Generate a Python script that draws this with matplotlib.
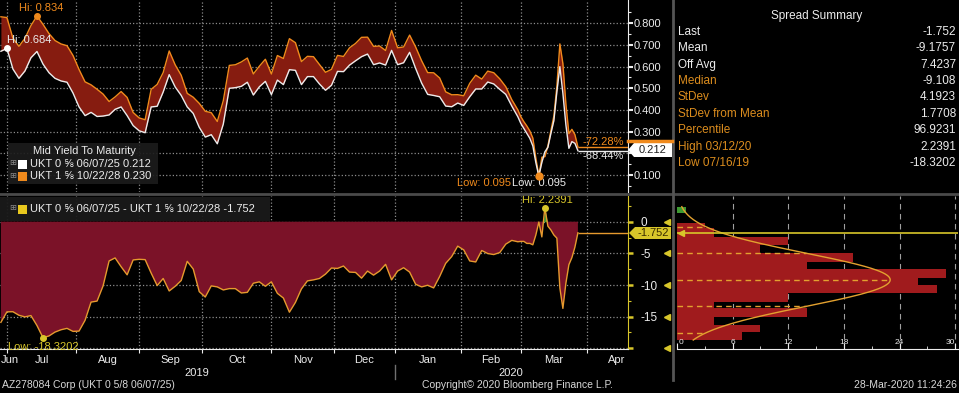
import numpy as np
import pandas as pd
import matplotlib
matplotlib.use('Agg')
import matplotlib.pyplot as plt
from matplotlib.patches import Rectangle, Polygon
from matplotlib.lines import Line2D
from matplotlib.transforms import blended_transform_factory

plt.rcParams['font.family'] = ['Liberation Sans', 'DejaVu Sans']

W, H = 959, 393

# --- data -------------------------------------------------------------------
uk_holidays = ['2019-08-26', '2019-12-25', '2019-12-26', '2020-01-01',
               '2020-04-10', '2020-04-13']

# every second trading day up to end-Feb, then daily through March
trading_days = pd.bdate_range('2019-06-27', '2020-03-27', freq='C', holidays=uk_holidays)
sample_idx = list(range(0, 173, 2)) + list(range(173, len(trading_days)))
sample_dates = trading_days[sample_idx]

# UKT 0 5/8 06/07/25 mid yield (%)
ukt25 = [
    0.671, 0.684, 0.589, 0.546, 0.580, 0.641, 0.670, 0.612, 0.572, 0.546,
    0.534, 0.528, 0.478, 0.414, 0.374, 0.389, 0.370, 0.372, 0.377, 0.403,
    0.414, 0.374, 0.328, 0.304, 0.295, 0.414, 0.417, 0.483, 0.563, 0.506,
    0.467, 0.414, 0.384, 0.320, 0.275, 0.286, 0.244, 0.335, 0.500, 0.503,
    0.509, 0.528, 0.469, 0.507, 0.532, 0.471, 0.538, 0.517, 0.586, 0.583,
    0.517, 0.554, 0.554, 0.520, 0.491, 0.514, 0.578, 0.577, 0.607, 0.627,
    0.646, 0.658, 0.609, 0.617, 0.607, 0.675, 0.609, 0.618, 0.666, 0.592,
    0.524, 0.472, 0.467, 0.461, 0.418, 0.415, 0.432, 0.421, 0.461, 0.497,
    0.497, 0.529, 0.520, 0.495, 0.472, 0.418, 0.369,
    # March, daily
    0.338, 0.315, 0.292, 0.269, 0.234, 0.157, 0.095, 0.158, 0.207, 0.227,
    0.291, 0.351, 0.484, 0.600, 0.477, 0.331, 0.223, 0.254, 0.246, 0.212,
]

# spread UKT25 - UKT28 (bp)
spread = [
    -15.90, -14.24, -14.22, -14.78, -15.04, -14.83, -16.40, -18.3202, -18.05, -17.44,
    -17.07, -16.85, -17.33, -17.28, -15.58, -12.70, -12.54, -10.14, -6.20, -5.72,
    -7.11, -8.39, -6.04, -5.94, -5.99, -8.12, -10.09, -8.97, -10.94, -10.20,
    -9.29, -6.26, -7.48, -11.05, -11.90, -10.14, -10.30, -10.78, -10.57, -10.57,
    -11.26, -11.16, -9.72, -9.50, -10.20, -9.50, -11.32, -12.06, -14.30, -12.75,
    -10.62, -9.35, -9.19, -8.97, -8.28, -7.32, -7.38, -7.00, -7.96, -8.01,
    -8.92, -7.80, -8.44, -7.80, -6.74, -9.19, -7.80, -7.27, -7.96, -9.88,
    -10.30, -10.04, -10.46, -8.65, -6.58, -5.51, -3.86, -4.45, -6.20, -6.36,
    -4.55, -5.03, -5.19, -4.87, -3.54, -2.95, -3.17,
    # March, daily
    -3.11, -3.11, -3.43, -3.43, -3.65, -2.10, -0.05, -2.40, 2.2391, -0.70,
    -1.30, -2.10, -2.60, -10.50, -13.70, -9.72, -6.79, -5.67, -4.02, -1.752,
]

# spread distribution (bin edges in bp, counts)
hist_edges = [2.37, 1.32, -0.26, -1.05, -2.36, -3.68, -5.00, -6.31, -7.47, -8.95,
              -10.00, -11.32, -12.63, -13.69, -15.00, -16.32, -17.47, -18.69]
hist_counts = [1, 0, 3, 4, 12, 9, 19, 14, 29, 26, 28, 12, 4, 14, 4, 9, 7]
spread_mean = -9.1757
spread_std = 4.1923

summary_labels = ['Last', 'Mean', 'Off Avg', 'Median', 'StDev', 'StDev from Mean',
                  'Percentile', 'High 03/12/20', 'Low 07/16/19']
summary_values = ['-1.752', '-9.1757', '7.4237', '-9.108', '4.1923', '1.7708',
                  '96.9231', '2.2391', '-18.3202']

# --- colours ----------------------------------------------------------------
WHITE = '#ececec'
ORANGE = '#f08a1c'
SPREAD_LINE = '#e69a2e'
YELLOW = '#d8c62a'
LABEL_ORANGE = '#dc8d1e'
TOP_FILL = '#861c10'
BOT_FILL = '#7b1228'
GRID = '#8c8c8c'

ukt25 = np.array(ukt25)
spread = np.array(spread)
ukt28 = ukt25 - spread / 100.0

x = np.busday_count('2019-07-01', sample_dates.values.astype('datetime64[D]'),
                    holidays=uk_holidays)

months = pd.date_range('2019-06-01', '2020-05-01', freq='MS')
month_first = np.busday_offset(months.values.astype('datetime64[D]'), 0,
                               roll='forward', holidays=uk_holidays)
month_x = np.busday_count('2019-07-01', month_first, holidays=uk_holidays)

XMIN, XMAX = -2.3, 206.5


def fx(px):
    return px / W


def fy(py):
    return 1 - py / H


fig = plt.figure(figsize=(W / 100, H / 100), dpi=100, facecolor='black')

ax_top = fig.add_axes([0, fy(192), fx(627.5), 192 / H])
ax_bot = fig.add_axes([0, fy(349), fx(627.5), (349 - 195.5) / H])
ax_hist = fig.add_axes([fx(677), fy(349), fx(281), (349 - 195.5) / H])

for ax in (ax_top, ax_bot, ax_hist):
    ax.set_facecolor('black')
    for s in ax.spines.values():
        s.set_visible(False)

# --- top panel: yields --------------------------------------------------------
ax_top.fill_between(x, ukt25, ukt28, color=TOP_FILL, lw=0, zorder=2)
ax_top.plot(x, ukt28, color=ORANGE, lw=1.0, zorder=3)
ax_top.plot(x, ukt25, color=WHITE, lw=1.0, zorder=4)
ax_top.hlines(ukt28[-1], x[-1], XMAX, color=ORANGE, lw=1.0, zorder=3)
ax_top.hlines(ukt25[-1], x[-1], XMAX, color=WHITE, lw=1.0, zorder=4)

ax_top.set_xticks(month_x, minor=True)
ax_top.set_xticks([])
ax_top.tick_params(axis='x', which='both', length=0, labelbottom=False)
ax_top.yaxis.tick_right()
yt_major = np.arange(0.1, 0.85, 0.1)
ax_top.set_yticks(yt_major)
# the 0.200 label sits under the last-price tag
ax_top.set_yticklabels(['' if abs(v - 0.2) < 1e-9 else '%.3f' % v for v in yt_major])
ax_top.set_yticks(np.arange(0.05, 0.88, 0.05), minor=True)
ax_top.tick_params(axis='y', which='major', colors=WHITE, labelsize=8, length=3.5,
                   width=1.5, pad=1)
ax_top.tick_params(axis='y', which='minor', colors=WHITE, length=2, width=0.8)
ax_top.spines['right'].set_visible(True)
ax_top.spines['right'].set_color(WHITE)
ax_top.grid(which='minor', axis='x', color=GRID, ls=':', lw=0.9)
ax_top.grid(which='major', axis='y', color=GRID, ls=':', lw=0.9)
ax_top.set_axisbelow(True)
ax_top.set_xlim(XMIN, XMAX)
ax_top.set_ylim(0.0215, 0.9075)

i_hi28 = int(np.argmax(ukt28))
i_hi25 = int(np.argmax(ukt25))
i_lo = int(np.argmin(ukt28))
ax_top.plot(x[i_hi28], ukt28[i_hi28], 'o', color=ORANGE, ms=4, zorder=6)
ax_top.annotate('Hi: 0.834', (x[i_hi28], ukt28[i_hi28]), xytext=(3, 5.5),
                textcoords='offset points', ha='center', va='center',
                color=ORANGE, fontsize=8)
ax_top.plot(x[i_hi25], ukt25[i_hi25], 'o', color='white', ms=4, zorder=6)
ax_top.annotate('Hi: 0.684', (x[i_hi25], ukt25[i_hi25]), xytext=(16, 6),
                textcoords='offset points', ha='center', va='center',
                color=WHITE, fontsize=8)
ax_top.plot(x[i_lo], ukt28[i_lo], 'o', color=ORANGE, ms=5, zorder=6)
ax_top.annotate('Low: 0.095', (x[i_lo], ukt28[i_lo]), xytext=(-20, -5.3),
                textcoords='offset points', ha='right', va='center',
                color=ORANGE, fontsize=8)
ax_top.annotate('Low: 0.095', (x[i_lo], ukt25[i_lo]), xytext=(-19.4, -5.3),
                textcoords='offset points', ha='left', va='center',
                color=WHITE, fontsize=8)
ax_top.text(205.3, 0.254, '-72.28%', color=ORANGE, fontsize=8, ha='right', va='center')
ax_top.text(205.3, 0.189, '-68.44%', color=WHITE, fontsize=8, ha='right', va='center')

# --- bottom panel: spread -----------------------------------------------------
ax_bot.fill_between(x, spread, 0, where=spread <= 0, interpolate=True,
                    color=BOT_FILL, lw=0, zorder=2)
ax_bot.fill_between(x, spread, 0, where=spread >= 0, interpolate=True,
                    color='#3e9a32', lw=0, zorder=2)
ax_bot.plot(x, spread, color=SPREAD_LINE, lw=1.0, zorder=3)
ax_bot.hlines(spread[-1], x[-1], XMAX, color=SPREAD_LINE, lw=1.0, zorder=3)

label_x = [max((a + b) / 2, 1.0) for a, b in zip(month_x[:-1], month_x[1:])]
label_txt = [m.strftime('%b') for m in months[:-1]]
ax_bot.set_xticks(label_x)
ax_bot.set_xticklabels(label_txt)
ax_bot.set_xticks(month_x, minor=True)
ax_bot.tick_params(axis='x', which='major', length=0, colors=WHITE, labelsize=8, pad=4)
ax_bot.tick_params(axis='x', which='minor', length=3, colors=WHITE, width=0.8)
ax_bot.spines['bottom'].set_visible(True)
ax_bot.spines['bottom'].set_color(WHITE)
ax_bot.yaxis.tick_right()
ax_bot.set_yticks([0, -5, -10, -15, -20])
ax_bot.set_yticklabels(['0', '-5', '-10', '-15', ''])
ax_bot.set_yticks(np.arange(-17.5, 4, 5), minor=True)
ax_bot.tick_params(axis='y', which='major', colors=YELLOW, labelcolor=WHITE,
                   labelsize=8.5, length=3.5, width=1.8, pad=6)
ax_bot.tick_params(axis='y', which='minor', colors=YELLOW, length=2.5, width=0.8)
ax_bot.spines['right'].set_visible(True)
ax_bot.spines['right'].set_color(YELLOW)
ax_bot.grid(which='minor', axis='x', color=GRID, ls=':', lw=0.9)
ax_bot.grid(which='major', axis='y', color=GRID, ls=':', lw=0.9)
ax_bot.set_axisbelow(True)
ax_bot.set_xlim(XMIN, XMAX)
ax_bot.set_ylim(-20.11, 4.14)

i_shi = int(np.argmax(spread))
i_slo = int(np.argmin(spread))
ax_bot.plot(x[i_shi], spread[i_shi], 'o', color=YELLOW, ms=4, zorder=6)
ax_bot.annotate('Hi: 2.2391', (x[i_shi], spread[i_shi]), xytext=(2, 5.5),
                textcoords='offset points', ha='center', va='center',
                color=YELLOW, fontsize=8)
ax_bot.plot(x[i_slo], spread[i_slo], 'o', color=YELLOW, ms=4, zorder=6)
ax_bot.annotate('Low: -18.3202', (x[i_slo], spread[i_slo]), xytext=(0, -6.8),
                textcoords='offset points', ha='center', va='center',
                color=YELLOW, fontsize=8)

xt = blended_transform_factory(ax_bot.transData, ax_bot.transAxes)
years = [('2019', (XMIN + month_x[7]) / 2), ('2020', (month_x[7] + XMAX) / 2)]
for txt, xp in years:
    ax_bot.text(xp, -0.155, txt, transform=xt, color=WHITE, fontsize=8,
                ha='center', va='center', clip_on=False)
ax_bot.add_line(Line2D([month_x[7], month_x[7]], [-0.105, -0.195], transform=xt,
                       color='#707070', lw=1, clip_on=False))

# left-pointing yellow tick markers at the outer edge of the y axis
yt = blended_transform_factory(fig.transFigure, ax_bot.transData)
ax_bot.plot([fx(667)] * 5, [0, -5, -10, -15, -20], ls='none', marker='<',
            color=YELLOW, ms=4, transform=yt, clip_on=False)
ax_bot.set_xlim(XMIN, XMAX)

# --- histogram ----------------------------------------------------------------
for top, bottom, cnt in zip(hist_edges[:-1], hist_edges[1:], hist_counts):
    if cnt == 0:
        continue
    col = '#3e9a32' if bottom >= 0 else '#a01b1d'
    ax_hist.barh(bottom, cnt, height=top - bottom, align='edge', color=col, lw=0, zorder=2)

ax_hist.set_yticks([])
ax_hist.set_xticks(range(0, 31, 6))
ax_hist.set_xticks(range(0, 31, 3), minor=True)
ax_hist.tick_params(axis='x', which='major', direction='in', length=4, colors=WHITE,
                    labelbottom=False)
ax_hist.tick_params(axis='x', which='minor', direction='in', length=2, colors=WHITE)
ax_hist.spines['bottom'].set_visible(True)
ax_hist.spines['bottom'].set_color(WHITE)
ax_hist.vlines(range(6, 31, 6), -20.11, 4.14, colors='#a0a0a0', lw=0.8,
               linestyles=(0, (5, 4)), zorder=1)
for v in range(0, 31, 6):
    ha = 'left' if v == 0 else ('right' if v == 30 else 'center')
    ax_hist.text(v + (0.2 if v == 0 else 0), -19.1, str(v), color=WHITE, fontsize=6,
                 ha=ha, va='center')

n_obs = sum(hist_counts)
bin_w = (hist_edges[0] - hist_edges[-1]) / len(hist_counts)
peak = n_obs * bin_w / (spread_std * np.sqrt(2 * np.pi))
yy = np.linspace(hist_edges[-1], hist_edges[0], 300)
ax_hist.plot(peak * np.exp(-0.5 * ((yy - spread_mean) / spread_std) ** 2), yy,
             color='#e3a12f', lw=1, zorder=4)
for k in (-2, -1, 0, 1, 2):
    yk = spread_mean + k * spread_std
    ax_hist.hlines(yk, 0, peak * np.exp(-0.5 * k * k), colors='#e3a12f', lw=1,
                   linestyles=(0, (4, 3)), zorder=3)
ax_hist.axhline(spread[-1], color=YELLOW, lw=1.2, zorder=5)
ax_hist.plot([0.45], [spread[-1]], marker='<', color=YELLOW, ms=5, zorder=6)
ax_hist.set_xlim(0, 30.3)
ax_hist.set_ylim(-20.11, 4.14)

# --- separators, tags, legends, text --------------------------------------------
fig.add_artist(Line2D([0, 1], [fy(193.5), fy(193.5)], color='#4a4a4a', lw=2))
fig.add_artist(Line2D([fx(673), fx(673)], [fy(0), fy(380)], color='#555555', lw=2))

fig.add_artist(Line2D([fx(628), fx(672)], [fy(141), fy(141)], color=ORANGE, lw=2.5))
fig.add_artist(Polygon([(fx(628), fy(150)), (fx(634), fy(143)), (fx(672), fy(143)),
                        (fx(672), fy(157)), (fx(634), fy(157))],
                       closed=True, fc='white', ec='none', transform=fig.transFigure))
fig.text(fx(653), fy(150.5), '0.212', color='#202020', fontsize=8, ha='center', va='center')

fig.add_artist(Polygon([(fx(629), fy(233)), (fx(635), fy(227)), (fx(671), fy(227)),
                        (fx(671), fy(239)), (fx(635), fy(239))],
                       closed=True, fc=YELLOW, ec='none', transform=fig.transFigure))
fig.text(fx(653), fy(233.5), '-1.752', color='#3a2c00', fontsize=8, ha='center', va='center')

# top legend
fig.add_artist(Rectangle((fx(8), fy(184)), fx(150), 41 / H, fc='#1c1c1c', ec='none',
                         alpha=0.92, transform=fig.transFigure))
fig.text(fx(84), fy(151), 'Mid Yield To Maturity', color=WHITE, fontsize=8,
         ha='center', va='center')
for row_y, col, name in [(164, 'white', 'UKT 0 \u215d 06/07/25 0.212'),
                         (176, ORANGE, 'UKT 1 \u215d 10/22/28 0.230')]:
    fig.text(fx(9), fy(row_y), '\u229e', color='#8a8a8a', fontsize=6, ha='left', va='center')
    fig.add_artist(Rectangle((fx(18), fy(row_y + 4.5)), fx(8.5), 9 / H, fc=col,
                             ec='none', transform=fig.transFigure))
    fig.text(fx(30), fy(row_y), name, color=WHITE, fontsize=8, ha='left', va='center')

# bottom legend
fig.add_artist(Rectangle((fx(0), fy(221)), fx(270), 24 / H, fc='#1a1a1a', ec='none',
                         alpha=0.95, transform=fig.transFigure))
fig.text(fx(9), fy(209), '\u229e', color='#8a8a8a', fontsize=6, ha='left', va='center')
fig.add_artist(Rectangle((fx(18), fy(213.5)), fx(8.5), 9 / H, fc='#e8c81e', ec='none',
                         transform=fig.transFigure))
fig.text(fx(30), fy(209), 'UKT 0 \u215d 06/07/25 - UKT 1 \u215d 10/22/28 -1.752',
         color=WHITE, fontsize=8, ha='left', va='center')

# spread summary table
fig.text(fx(817), fy(15.5), 'Spread Summary', color=WHITE, fontsize=8.5,
         ha='center', va='center')
for i, (lab, val) in enumerate(zip(summary_labels, summary_values)):
    py = 31.7 + 16.43 * i
    fig.text(fx(678), fy(py), lab, color=WHITE if i < 3 else LABEL_ORANGE,
             fontsize=8.5, ha='left', va='center')
    fig.text(fx(956), fy(py), val, color=WHITE, fontsize=8.5, ha='right', va='center')

# footer
fig.text(fx(2), fy(385), 'AZ278084 Corp (UKT 0 5/8 06/07/25)', color='#d8d8d8',
         fontsize=7.5, ha='left', va='center')
fig.text(fx(517), fy(385), 'Copyright\u00a9 2020 Bloomberg Finance L.P.', color='#d8d8d8',
         fontsize=7.5, ha='center', va='center')
fig.text(fx(957), fy(385), '28-Mar-2020 11:24:26', color='#d8d8d8',
         fontsize=7.5, ha='right', va='center')

fig.savefig('out.png', dpi=100, facecolor='black')
